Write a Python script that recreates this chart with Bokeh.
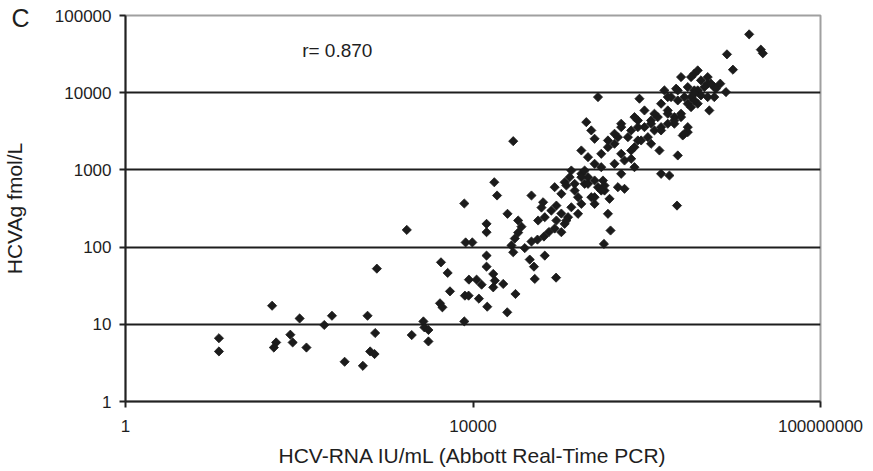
import math
from bokeh.plotting import figure
from bokeh.models import (FixedTicker, NumeralTickFormatter, PrintfTickFormatter, Label,
                          Range1d, ColumnDataSource, LogAxis)
from bokeh.embed import file_html
from bokeh.resources import INLINE

# HCV-RNA IU/mL (Abbott Real-Time PCR)
rna = [
    11.9, 11.9, 48.7, 54.2, 51, 79, 84, 101, 121, 194, 238, 333, 540, 611, 748, 655, 736, 782,
    1972, 2686, 2760, 3069, 3069, 4169, 4443, 1729, 4279, 5108, 5433, 7943, 8072, 8900, 11690,
    14590, 24770, 30830, 7943, 8225, 9820, 8975, 11000, 12560, 14320, 14320, 14320, 14320,
    17580, 18920, 17100, 17840, 22280, 17100, 24950, 33110, 36140, 33110, 30270, 27730, 29040,
    39450, 47100, 55200, 65500, 74800, 87100, 104000, 45000, 50300, 67000, 51400, 90400,
    47100, 64100, 61400, 56200, 67000, 79800, 91200, 104000, 91200, 113500, 124200, 87100,
    113500, 129700, 29040, 373000, 357500, 383000, 321500, 104000, 118800, 148000, 161800,
    176600, 135500, 161800, 118800, 192700, 210800, 251000, 274600, 230000, 251000, 313400,
    326700, 465600, 135500, 176600,
    2483000, 3530000, 4210000, 2965000, 3860000, 5030000, 5990000, 3236000, 2275000, 1905000,
    1596000, 1463000, 1746000, 2080000, 1340000, 1122000, 941000, 790700, 662000, 508000,
    465600, 425600, 357500, 299500, 508000, 662000, 790700, 1030000, 1226000, 1463000,
    1746000, 2080000, 2483000, 2965000, 3860000, 5030000, 176600, 210800, 251000, 192700,
    299500, 425600, 554600, 662000, 722300, 176600, 326700, 201400, 230000, 251000, 5250000,
    2275000, 1400000, 1463000, 1823000, 2965000, 2596000, 508000, 554600, 274600, 824000,
    15100000, 20560000, 21700000, 8380000, 9820000, 7020000, 8160000, 5990000, 3860000,
    3236000, 5030000, 5490000, 3530000, 4600000, 2710000, 3530000, 4210000, 3236000, 2965000,
    2710000, 2177000, 6260000, 3530000, 2275000, 1746000, 1226000, 1746000, 2080000, 2483000,
    941000, 722300, 790700, 1122000, 1463000, 508000, 425600, 357500, 607000, 862000, 722300,
    1122000, 148000, 210800, 251000, 299500, 2230000,
]

# HCVAg fmol/L
hcvag = [
    6.6, 4.45, 17.4, 5.82, 5.0, 7.33, 5.82, 11.9, 5.0, 9.8, 12.9, 3.27, 2.9, 12.9, 7.71, 4.45, 4.12, 52.6,
    7.26, 10.9, 9.12, 8.44, 6.0, 18.7, 16.6, 167, 63.5, 46.3, 26.7, 10.9, 23.5, 23.5, 21.5,
    16.9, 14.3, 24.7, 367, 115, 115, 37.9, 37.9, 32.6, 77.6, 55.8, 200, 156,
    692, 466, 44.9, 36.8, 33.3, 30.1, 270, 221, 184, 154, 129, 105, 85.7,
    97, 118, 125, 137, 157, 174, 156, 68.9, 55.8, 77.6, 38.7, 40.2,
    466, 381, 325, 221, 244, 297, 345, 272, 221, 200, 244, 597,
    692, 804, 2355, 422, 270, 164, 110, 490, 628, 540, 443,
    363, 328, 270, 221, 660, 804, 729, 597, 443, 363, 729,
    540, 597, 982, 890,
    15930, 17630, 14450, 11830, 10710, 13090, 11830, 8770, 10710, 8770,
    10710, 7200, 5890, 4830, 4830, 4370, 3580, 4370, 3245, 3963,
    2655, 2180, 1970, 1617, 1617, 1785, 2406, 2655, 3245, 3580,
    3963, 3963, 5340, 7200, 7200, 8770, 1785, 1462, 1200, 982,
    1084, 1200, 1324, 1393, 1084, 804, 628, 4155, 3245, 2530, 5890,
    1538, 1785, 890, 846, 3083, 2793, 890, 569, 8770, 8360,
    57000, 36130, 32350, 31400, 19870, 13090, 10180, 8770, 19450,
    15930, 15930, 13090, 10710, 11830, 8770, 7940, 9230, 6500, 3580,
    2940, 11270, 11270, 9700, 7940, 8770, 5340, 5340, 4370, 4830,
    5890, 4830, 3580, 3963, 3245, 3580, 2940, 2406, 2655, 2406, 1970,
    2180, 660, 660, 443, 540, 345,
]

x_ticks = [1, 10000, 100000000]
y_ticks = [1, 10, 100, 1000, 10000, 100000]
grid_ticks = [10, 100, 1000, 10000]
r_text = "r= 0.870"
panel_letter = "C"
panel_letter_at = [93000]   # vertical anchor of the panel letter, on the y scale

FONT = "Liberation Sans"
TXT = "#1e1e1e"

W, H = 872, 470
p = figure(width=W, height=H, x_axis_type="log", y_axis_type="log",
           x_range=Range1d(1, 1e8), y_range=Range1d(1, 1e5),
           output_backend="svg", toolbar_location=None,
           min_border_left=123, min_border_right=52, min_border_top=15, min_border_bottom=69)

src = ColumnDataSource(dict(x=rna, y=hcvag))
p.scatter("x", "y", source=src, marker="square", angle=math.pi / 4, size=6.5,
          fill_color="#1b1b1b", line_color="#1b1b1b", line_width=0.8)

xa = p.xaxis[0]
ya = p.yaxis[0]
xa.ticker = FixedTicker(ticks=x_ticks)
ya.ticker = FixedTicker(ticks=y_ticks)
xa.formatter = NumeralTickFormatter(format="0")
ya.formatter = NumeralTickFormatter(format="0")

for ax in (xa, ya):
    ax.axis_line_color = "#222222"
    ax.axis_line_width = 2
    ax.major_tick_line_color = "#222222"
    ax.major_tick_line_width = 2
    ax.major_tick_out = 6
    ax.major_tick_in = 0
    ax.minor_tick_out = 0
    ax.minor_tick_in = 0
    ax.major_label_text_font = FONT
    ax.major_label_text_font_size = "17px"
    ax.major_label_text_color = TXT
    ax.axis_label_text_font = FONT
    ax.axis_label_text_font_size = "21px"
    ax.axis_label_text_font_style = "normal"
    ax.axis_label_text_color = TXT

xa.axis_label = "HCV-RNA IU/mL (Abbott Real-Time PCR)"
xa.major_label_standoff = 12
xa.axis_label_standoff = 9
ya.major_label_standoff = 8

# outer left axis: carries the panel letter and the y title
outer = LogAxis(ticker=FixedTicker(ticks=panel_letter_at),
                formatter=PrintfTickFormatter(format=panel_letter),
                axis_label="HCVAg fmol/L")
outer.axis_line_color = None
outer.major_tick_line_color = None
outer.minor_tick_line_color = None
outer.major_tick_out = 0
outer.major_tick_in = 0
outer.minor_tick_out = 0
outer.minor_tick_in = 0
outer.major_label_standoff = 22
outer.major_label_text_font = FONT
outer.major_label_text_font_size = "25px"
outer.major_label_text_color = TXT
outer.axis_label_text_font = FONT
outer.axis_label_text_font_size = "21px"
outer.axis_label_text_font_style = "normal"
outer.axis_label_text_color = TXT
outer.axis_label_standoff = -18
p.add_layout(outer, "left")

p.xgrid.visible = False
p.ygrid.ticker = FixedTicker(ticks=grid_ticks)
p.ygrid.grid_line_color = "#1e1e1e"
p.ygrid.grid_line_width = 2

p.outline_line_color = "#a0a0a0"
p.outline_line_width = 2
p.background_fill_color = "white"
p.border_fill_color = "white"

p.add_layout(Label(x=108, y=35400, text=r_text, text_font=FONT, text_font_size="19px",
                   text_color=TXT, text_baseline="middle", text_align="left"))

open("out.html", "w").write(file_html(p, INLINE))
